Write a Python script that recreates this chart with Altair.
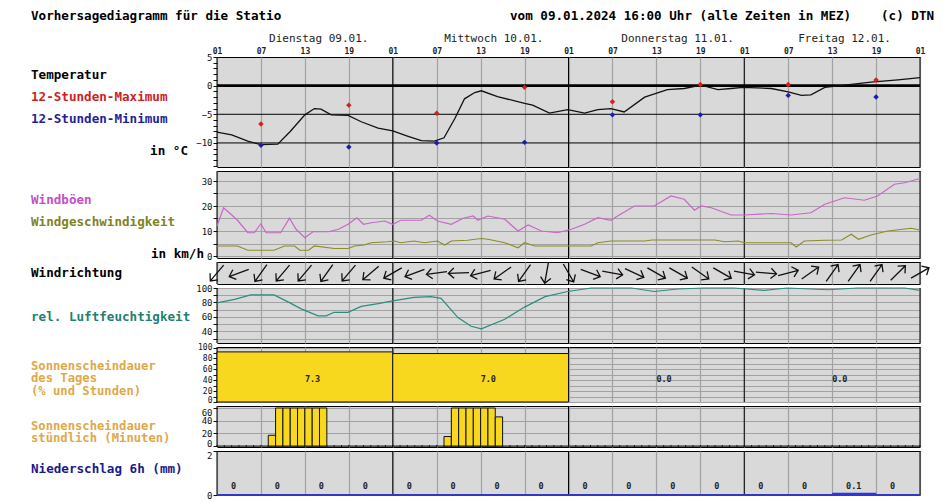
import altair as alt
import pandas as pd

FONT = "DejaVu Sans Mono"
BG = "#d9d9d9"
GRID = "#a2a2a2"
PW = 703

# ---------------- data ----------------
hour_ticks = [0, 6, 12, 18, 24, 30, 36, 42, 48, 54, 60, 66, 72, 78, 84, 90, 96]
day_bounds = [0, 24, 48, 72, 96]
day_names = ["Dienstag 09.01.", "Mittwoch 10.01.", "Donnerstag 11.01.", "Freitag 12.01."]
day_name_h = [13.9, 37.8, 62.9, 85.7]

temp_h = [0, 2, 4.2, 6, 8.3, 10, 12, 13.3, 14.2, 15.6, 17.9, 19.7, 22, 24, 26, 27.9, 29.7, 31,
          32.5, 33.8, 35.2, 36.1, 38.3, 42, 43.1, 45.4, 47.9, 50.2, 52, 53.8, 55.6, 58.4, 61.5,
          63.8, 66.1, 68.4, 70.2, 71.8, 75.7, 78, 79.8, 81.1, 83, 85.7, 89.3, 93, 96]
temp_v = [-8.1, -8.6, -9.7, -10.3, -10.2, -8.0, -5.1, -4.0, -4.1, -5.1, -5.2, -6.3, -7.4, -7.9,
          -8.8, -9.6, -9.7, -9.1, -5.7, -2.3, -1.2, -0.9, -1.9, -3.1, -3.4, -4.8, -4.2, -4.8,
          -4.2, -4.0, -4.6, -2.0, -0.7, -0.5, 0.1, -0.7, -0.5, -0.3, -0.5, -1.1, -1.7, -1.6,
          -0.3, 0.1, 0.6, 1.0, 1.4]
ext_h = [6, 18, 30, 42, 54, 66, 78, 90]
max_v = [-6.7, -3.4, -4.8, -0.3, -2.8, 0.2, 0.2, 1.0]
min_v = [-10.4, -10.7, -10.0, -9.9, -5.1, -5.1, -1.7, -2.0]
temp_lines = [-10, -5]

gust_h = [0, 0.9, 1.9, 2.8, 4.2, 5.1, 6, 6.7, 8.7, 9.9, 10.8, 12, 13.1, 15.2, 16.6, 17.9, 19.1,
          20, 21.1, 22.9, 24, 25.1, 27.9, 29, 30.1, 32, 33.6, 35, 35.6, 37, 39.3, 41.1, 42.5,
          44.3, 46.5, 48.4, 50.2, 52, 53.8, 54.7, 57, 59.7, 62, 63.8, 65.2, 66.1, 67.5, 70.2,
          72, 75.7, 78.4, 81.1, 83, 85.7, 88.4, 90.2, 92.5, 93.9, 96]
gust_v = [12, 19.3, 16.7, 14.3, 9.3, 9.3, 12.9, 9.3, 9.3, 15.1, 10.7, 7.3, 9.7, 9.7, 10.7, 12.7,
          15.3, 12.7, 13.3, 14, 12.7, 14.3, 14.3, 16.3, 14, 12.7, 15.1, 16, 14.3, 16, 14.7, 10,
          12.4, 10, 9.3, 10.7, 12.7, 15.3, 14.3, 16, 20, 20, 24, 22.7, 18.3, 20, 19.3, 16.4,
          16.4, 17, 16.4, 17.3, 20.7, 23.3, 22.3, 24, 28.7, 29.3, 31]
wind_h = [0, 2.8, 4.2, 7.8, 9.2, 10.6, 11.3, 12.5, 13.3, 16, 17.9, 18.8, 20.1, 21, 23.3, 24.2,
          25.1, 26.9, 28.3, 30.1, 31.1, 32, 34.2, 36.1, 37, 39.3, 41.1, 42, 43.4, 48.4, 51.1,
          52, 53.8, 58.4, 59.4, 68, 69.3, 71.2, 72, 78.4, 79.1, 80.2, 83, 85.3, 86.6, 87.6,
          89.3, 91.6, 94.8, 96]
wind_v = [4, 4, 2.3, 2.3, 4, 4, 2.3, 2.3, 4, 3, 3, 4, 4.4, 5.3, 5.7, 6, 5.3, 6, 5.3, 6, 4.4, 6,
          6.3, 7, 6.7, 5.3, 3.3, 5.3, 4, 4, 4, 5.3, 6, 6, 6.4, 6.4, 5.7, 6, 5.3, 5.3, 3.6, 6,
          6.3, 6.4, 8.7, 6.7, 8.4, 10, 11.1, 10.4]

dir_h = [0, 3, 6, 9, 12, 15, 18, 21, 24, 27, 30, 33, 36, 39, 42, 45, 48, 51, 54, 57, 60, 63,
         66, 69, 72, 75, 78, 81, 84, 87, 90, 93, 96]
dir_v = [220, 250, 215, 220, 220, 215, 220, 230, 240, 250, 262, 268, 255, 235, 215, 190, 150,
         110, 100, 115, 120, 120, 125, 120, 100, 95, 75, 55, 35, 35, 35, 45, 60]

hum_h = [0, 2.4, 4.6, 7.8, 9.7, 11.5, 13.8, 14.9, 16, 17.9, 19.7, 22, 24, 26.9, 29.2, 30.6,
         32.9, 34.7, 36.1, 39.3, 42, 44.8, 47.9, 51.1, 53.8, 56.6, 59.7, 62.9, 66.5, 70.6,
         74.7, 77.9, 83.4, 87.5, 93.9, 96]
hum_v = [79.4, 84.2, 90.4, 90.4, 80.8, 71.2, 61.6, 61.6, 66.4, 66.4, 74.6, 78.4, 82.2, 87, 88,
         85.6, 59.2, 47.2, 43.6, 56.8, 73.6, 88, 95.2, 100, 100, 100, 95.2, 98.6, 100, 100,
         96.6, 100, 97.6, 100, 100, 96.6]

sun_start = [0, 24, 48, 72]
sun_end = [24, 48, 72, 96]
sun_pct = [92, 89, 0, 0]
sun_hours = ["7.3", "7.0", "0.0", "0.0"]
sun_lbl_h = [12, 36, 60, 84]
sun_lbl_y = [42, 42, 42, 42]

sunh_h = [7, 8, 9, 10, 11, 12, 13, 14, 31, 32, 33, 34, 35, 36, 37, 38]
sunh_min = [17, 60, 60, 60, 60, 60, 60, 60, 15, 60, 60, 60, 60, 60, 60, 46]
hour_marks = list(range(0, 97))

rain_h = [0, 6, 12, 18, 24, 30, 36, 42, 48, 54, 60, 66, 72, 78, 84, 90]
rain_mm = [0, 0, 0, 0, 0, 0, 0, 0, 0, 0, 0, 0, 0, 0, 0.1, 0]
rain_lbl = ["0", "0", "0", "0", "0", "0", "0", "0", "0", "0", "0", "0", "0", "0", "0.1", "0"]
rain_lbl_h = [1.9, 7.9, 13.9, 19.9, 25.9, 31.9, 37.9, 43.9, 49.9, 55.9, 61.9, 67.9, 73.9, 79.9,
              85.9, 91.9]

# ---------------- helpers ----------------
ONE = [{"k": 1}]
XS = alt.Scale(domain=[0, 96], nice=False, zero=False)


def xax(top=False):
    if top:
        return alt.Axis(orient="top", values=hour_ticks, grid=True, gridColor=GRID, gridWidth=1.2,
                        labelExpr="format((datum.value + 1) % 24, '02d')", labelFont=FONT,
                        labelFontSize=8, labelFontWeight="bold", labelColor="#222",
                        labelPadding=2, ticks=False, domain=False, title=None,
                        labelFlush=False, labelOverlap=False)
    return alt.Axis(values=hour_ticks, grid=True, gridColor=GRID, gridWidth=1.2, labels=False,
                    ticks=False, domain=False, title=None)


def xenc(field="h", top=False):
    return alt.X(f"{field}:Q", scale=XS, axis=xax(top))


def yenc(field, domain, values, mod=None, grid=False, lb=None, fs=9):
    kw = dict(values=values, grid=grid, gridColor=GRID, gridWidth=1, domain=False, title=None,
              tickSize=4, tickColor="#111", labelFont=FONT, labelFontSize=fs, labelColor="#111",
              labelPadding=1, labelFlush=False, labelOverlap=False)
    if mod:
        kw["labelExpr"] = f"datum.value % {mod} == 0 ? datum.label : ''"
    if lb:
        kw["labelBaseline"] = lb
    return alt.Y(f"{field}:Q", scale=alt.Scale(domain=domain, nice=False, zero=False),
                 axis=alt.Axis(**kw))


def txt(s, px, py, color="#000", size=12.6, bold=True, align="left", lh=11):
    return alt.Chart(alt.Data(values=ONE)).mark_text(
        text=s, font=FONT, fontSize=size, fontWeight="bold" if bold else "normal",
        color=color, align=align, baseline="middle", lineBreak="\n", lineHeight=lh).encode(
        x=alt.value(px), y=alt.value(py))


def dayrules(top=False):
    return alt.Chart(pd.DataFrame({"h": day_bounds})).mark_rule(
        color="#000", strokeWidth=1).encode(x=xenc(top=top))


# ---------------- panel 1: temperature ----------------
TD = [-14.2, 5]
TV = list(range(-14, 6))
tdf = pd.DataFrame({"h": temp_h, "t": temp_v})
edf = pd.DataFrame({"h": ext_h, "mx": max_v, "mn": min_v})

p1 = alt.layer(
    dayrules(True),
    alt.Chart(pd.DataFrame({"y": temp_lines})).mark_rule(color="#000", strokeWidth=1).encode(
        y=yenc("y", TD, TV, 5)),
    alt.Chart(pd.DataFrame({"y": [0]})).mark_rule(color="#000", strokeWidth=2.6).encode(
        y=yenc("y", TD, TV, 5)),
    alt.Chart(tdf).mark_line(color="#111", strokeWidth=1.3).encode(
        x=xenc(top=True), y=yenc("t", TD, TV, 5)),
    alt.Chart(edf).mark_point(shape="diamond", filled=True, size=30, color="#d42020", opacity=1).encode(
        x=xenc(top=True), y=yenc("mx", TD, TV, 5)),
    alt.Chart(edf).mark_point(shape="diamond", filled=True, size=30, color="#1c1ca8", opacity=1).encode(
        x=xenc(top=True), y=yenc("mn", TD, TV, 5)),
    alt.Chart(pd.DataFrame({"h": day_name_h, "d": day_names})).mark_text(
        font=FONT, fontSize=11, color="#222", align="center", baseline="middle").encode(
        x=xenc(top=True), y=alt.value(-18), text="d:N"),
    txt("Vorhersagediagramm für die Statio", -186, -41),
    txt("vom 09.01.2024 16:00 Uhr (alle Zeiten in MEZ)", 293, -41),
    txt("(c) DTN", 664, -41),
    txt("Temperatur", -186, 18),
    txt("12-Stunden-Maximum", -186, 40, "#cc1f1f"),
    txt("12-Stunden-Minimum", -186, 62, "#1f1f99"),
    txt("in °C", -29, 94, align="right"),
    alt.Chart(alt.Data(values=ONE)).mark_rule(opacity=0, strokeWidth=0.01).encode(
        x=alt.value(-208), x2=alt.value(-207), y=alt.value(-48)),
).properties(width=PW, height=110)

# ---------------- panel 2: wind ----------------
WD = [-0.8, 34]
WV = [0, 5, 10, 15, 20, 25, 30]
p2 = alt.layer(
    dayrules(),
    alt.Chart(pd.DataFrame({"h": wind_h, "w": wind_v})).mark_line(color="#8c8c2a", strokeWidth=1.2).encode(
        x=xenc(), y=yenc("w", WD, WV, 10, grid=True)),
    alt.Chart(pd.DataFrame({"h": gust_h, "g": gust_v})).mark_line(color="#c966c9", strokeWidth=1.2).encode(
        x=xenc(), y=yenc("g", WD, WV, 10, grid=True)),
    txt("Windböen", -186, 29, "#c64ec6"),
    txt("Windgeschwindigkeit", -186, 51, "#82821e"),
    txt("in km/h", -13, 83, align="right"),
).properties(width=PW, height=87)

# ---------------- panel 3: wind direction ----------------
ARROW = "M0,1L0,-1M-0.5,-0.45L0,-1L0.5,-0.45"
p3 = alt.layer(
    dayrules(),
    alt.Chart(pd.DataFrame({"h": dir_h, "d": dir_v})).mark_point(
        shape=ARROW, filled=False, color="#111", strokeWidth=1.3, size=430, opacity=1).encode(
        x=xenc(), y=alt.value(11), angle=alt.Angle("d:Q", scale=None)),
    txt("Windrichtung", -186, 11),
).properties(width=PW, height=22)

# ---------------- panel 4: humidity ----------------
HD = [24, 100]
HV = [30, 40, 50, 60, 70, 80, 90, 100]
p4 = alt.layer(
    dayrules(),
    alt.Chart(pd.DataFrame({"h": hum_h, "r": hum_v})).mark_line(color="#2e8b80", strokeWidth=1.2).encode(
        x=xenc(), y=yenc("r", HD, HV, 20, grid=True)),
    txt("rel. Luftfeuchtigkeit", -186, 29, "#1f7f72"),
).properties(width=PW, height=55)

# ---------------- panel 5: daily sunshine ----------------
SD = [0, 101]
SV = [0, 10, 20, 30, 40, 50, 60, 70, 80, 90, 100]
LB_SUN = {"condition": {"test": "datum.value == 0", "value": "alphabetic"}, "value": "middle"}
sdf = pd.DataFrame({"h": sun_start, "h2": sun_end, "p": sun_pct})
p5 = alt.layer(
    dayrules(),
    alt.Chart(sdf).transform_filter("datum.p > 0").transform_calculate(z="0").mark_bar(
        color="#f8d81e", stroke="#111", strokeWidth=1).encode(
        x=xenc(), x2=alt.X2("h2:Q"), y=yenc("p", SD, SV, 20, grid=True, lb=LB_SUN, fs=8),
        y2=alt.Y2("z:Q")),
    alt.Chart(pd.DataFrame({"h": sun_lbl_h, "y": sun_lbl_y, "s": sun_hours})).mark_text(
        font=FONT, fontSize=8.5, fontWeight="bold", color="#222", align="left", baseline="middle").encode(
        x=xenc(), y=yenc("y", SD, SV, 20, grid=True, lb=LB_SUN, fs=8), text="s:N"),
    txt("Sonnenscheindauer\ndes Tages\n(% und Stunden)", -186, 18.5, "#e0a848", size=12.2, lh=12.5),
).properties(width=PW, height=55)

# ---------------- panel 6: hourly sunshine ----------------
MD = [-1.5, 63.2]
MV = [0, 20, 40, 60]
LB_H = {"condition": [{"test": "datum.value == 60", "value": "top"},
                      {"test": "datum.value == 0", "value": "alphabetic"}], "value": "middle"}
p6 = alt.layer(
    dayrules(),
    alt.Chart(pd.DataFrame({"y": [0]})).mark_rule(color="#111", strokeWidth=1).encode(
        y=yenc("y", MD, MV, grid=True, lb=LB_H)),
    alt.Chart(pd.DataFrame({"h": hour_marks})).transform_calculate(lo="-1.3", hi="1.6").mark_rule(
        color="#111", strokeWidth=1).encode(
        x=xenc(), y=yenc("lo", MD, MV, grid=True, lb=LB_H), y2=alt.Y2("hi:Q")),
    alt.Chart(pd.DataFrame({"h": sunh_h, "m": sunh_min})).transform_calculate(
        h2="datum.h + 1", z="0").mark_bar(color="#f8d81e", stroke="#111", strokeWidth=1).encode(
        x=xenc(), x2=alt.X2("h2:Q"), y=yenc("m", MD, MV, grid=True, lb=LB_H), y2=alt.Y2("z:Q")),
    txt("Sonnenscheindauer\nstündlich (Minuten)", -186, 19.5, "#e0a848", size=12.2, lh=12.5),
).properties(width=PW, height=41)

# ---------------- panel 7: precipitation ----------------
RD = [0, 2]
RV = [0, 2]
LB_R = {"condition": {"test": "datum.value == 2", "value": "top"}, "value": "middle"}
rdf = pd.DataFrame({"h": rain_h, "mm": rain_mm})
p7 = alt.layer(
    dayrules(),
    alt.Chart(pd.DataFrame({"y": [0]})).mark_rule(color="#3535c8", strokeWidth=2).encode(
        y=yenc("y", RD, RV, lb=LB_R)),
    alt.Chart(rdf).transform_filter("datum.mm > 0").transform_calculate(
        h2="datum.h + 6", z="0").mark_bar(color="#3333dd").encode(
        x=xenc(), x2=alt.X2("h2:Q"), y=yenc("mm", RD, RV, lb=LB_R), y2=alt.Y2("z:Q")),
    alt.Chart(pd.DataFrame({"h": rain_lbl_h, "s": rain_lbl})).mark_text(
        font=FONT, fontSize=8.5, fontWeight="bold", color="#222", align="left", baseline="middle").encode(
        x=xenc(), y=alt.value(35), text="s:N"),
    txt("Niederschlag 6h (mm)", -186, 18, "#1a1a8c"),
).properties(width=PW, height=44)

chart = alt.vconcat(p1, p2, p3, p4, p5, p6, p7, spacing=4, bounds="flush").configure_view(
    fill=BG, stroke="#000", strokeWidth=1).properties(padding=0, background="#ffffff")

chart.save("out.html", embed_options={"renderer": "svg", "actions": False})
